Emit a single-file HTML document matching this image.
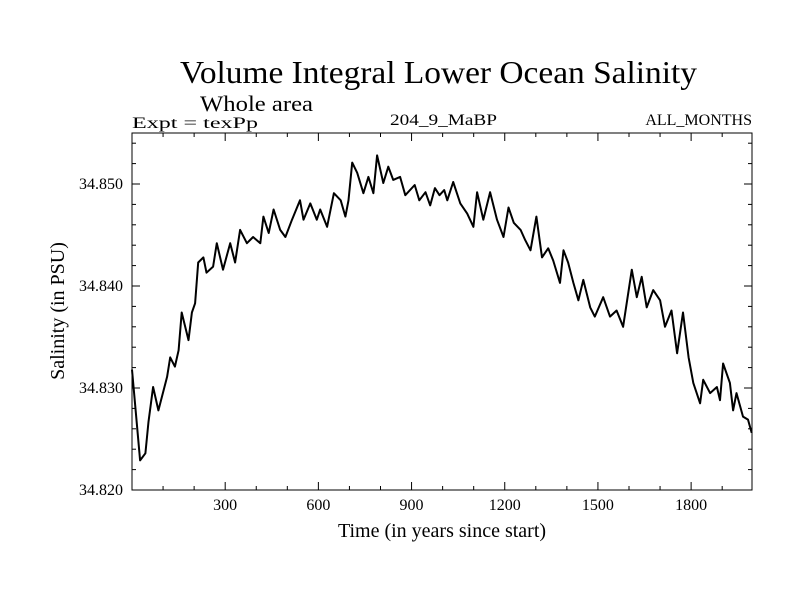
<!DOCTYPE html>
<html><head><meta charset="utf-8"><style>
body{margin:0;background:#fff}
svg text{font-family:"Liberation Serif",serif;fill:#000}
</style></head><body>
<svg id="chart" width="800" height="600" viewBox="0 0 800 600">
<text x="180" y="83" font-size="32" textLength="517" lengthAdjust="spacingAndGlyphs">Volume Integral Lower Ocean Salinity</text>
<text x="200" y="111" font-size="22" textLength="113" lengthAdjust="spacingAndGlyphs">Whole area</text>
<text x="132" y="128" font-size="16" textLength="126" lengthAdjust="spacingAndGlyphs">Expt = texPp</text>
<text x="390" y="125" font-size="16" textLength="107" lengthAdjust="spacingAndGlyphs">204_9_MaBP</text>
<text x="752" y="125" font-size="16" text-anchor="end">ALL_MONTHS</text>
<text x="442" y="537" font-size="20" text-anchor="middle">Time (in years since start)</text>
<text transform="translate(64,311) rotate(-90)" font-size="20" text-anchor="middle">Salinity (in PSU)</text>
<g id="axes"></g>
<path id="series" fill="none" stroke="#000" stroke-width="2" stroke-linejoin="round"></path>
<rect x="132" y="133" width="620" height="357" fill="none" stroke="#000" stroke-width="1"></rect>
</svg>
<script>
const years=[0,26,43,53,68,85,113,123,138,150,160,182,193,203,213,230,240,261,273,293,316,332,348,370,390,413,423,440,456,477,494,515,541,552,574,595,606,628,650,672,687,697,709,725,745,761,777,789,809,825,841,863,880,910,925,945,960,975,990,1005,1015,1034,1057,1079,1099,1111,1131,1153,1175,1196,1212,1229,1251,1266,1283,1302,1320,1340,1356,1378,1389,1404,1421,1437,1453,1475,1490,1517,1539,1560,1581,1609,1625,1641,1657,1678,1700,1716,1737,1755,1774,1792,1807,1829,1839,1861,1883,1893,1903,1925,1935,1946,1967,1983,1995];
const salinity=[34.8318,34.8229,34.8236,34.8267,34.8301,34.8278,34.8311,34.8330,34.8321,34.8337,34.8374,34.8347,34.8374,34.8383,34.8423,34.8428,34.8413,34.8419,34.8442,34.8416,34.8442,34.8423,34.8455,34.8442,34.8448,34.8442,34.8468,34.8452,34.8475,34.8455,34.8448,34.8465,34.8484,34.8465,34.8481,34.8465,34.8475,34.8458,34.8491,34.8484,34.8468,34.8484,34.8521,34.8511,34.8491,34.8507,34.8491,34.8528,34.8501,34.8517,34.8504,34.8507,34.8489,34.8499,34.8484,34.8492,34.8479,34.8496,34.8489,34.8494,34.8484,34.8502,34.8481,34.8471,34.8458,34.8492,34.8465,34.8492,34.8465,34.8448,34.8477,34.8462,34.8455,34.8445,34.8435,34.8468,34.8428,34.8437,34.8425,34.8403,34.8435,34.8423,34.8403,34.8386,34.8406,34.8379,34.8370,34.8389,34.8370,34.8376,34.8360,34.8416,34.8389,34.8409,34.8379,34.8396,34.8386,34.8360,34.8376,34.8334,34.8374,34.8330,34.8305,34.8285,34.8308,34.8295,34.8301,34.8288,34.8324,34.8305,34.8278,34.8295,34.8272,34.8269,34.8256];
const xTicks=[300,600,900,1200,1500,1800];
const yTicks=[34.820,34.830,34.840,34.850];
const yTickLabels=["34.820","34.830","34.840","34.850"];
const X0=132,X1=752,Y0=490,Y1=133,XMIN=0,XMAX=1996,YMIN=34.820,YMAX=34.855;
function sx(v){return X0+(v-XMIN)/(XMAX-XMIN)*(X1-X0);}
function sy(v){return Y0-(v-YMIN)/(YMAX-YMIN)*(Y0-Y1);}
const NS="http://www.w3.org/2000/svg";
const g=document.getElementById('axes');
function line(x1,y1,x2,y2,name){const l=document.createElementNS(NS,'line');
l.setAttribute('x1',x1);l.setAttribute('y1',y1);l.setAttribute('x2',x2);l.setAttribute('y2',y2);
l.setAttribute('stroke','#000');l.setAttribute('stroke-width','1');


g.appendChild(l);}
function text(x,y,s,anchor,name){const t=document.createElementNS(NS,'text');
t.setAttribute('x',x);t.setAttribute('y',y);t.setAttribute('font-size','16');t.setAttribute('text-anchor',anchor);t.textContent=s;


g.appendChild(t);}
for(let v=100;v<XMAX;v+=100){const x=sx(v);const major=v%300===0;const L=major?8:4;
line(x,Y0,x,Y0-L,'x-tick');line(x,Y1,x,Y1+L,'x-tick');}
xTicks.forEach(v=>text(sx(v),510,String(v),'middle','x-tick-label'));
for(let k=0;k<=17;k++){const v=YMIN+k*0.002;const y=sy(v);const major=(k%5===0);const L=major?8:4;
line(X0,y,X0+L,y,'y-tick');line(X1,y,X1-L,y,'y-tick');}
yTicks.forEach((v,i)=>text(123,sy(v)+5,yTickLabels[i],'end','y-tick-label'));
let d='';years.forEach((yr,i)=>{d+=(i?'L':'M')+sx(yr).toFixed(1)+','+sy(salinity[i]).toFixed(1);});
document.getElementById('series').setAttribute('d',d);
</script>
</body></html>
